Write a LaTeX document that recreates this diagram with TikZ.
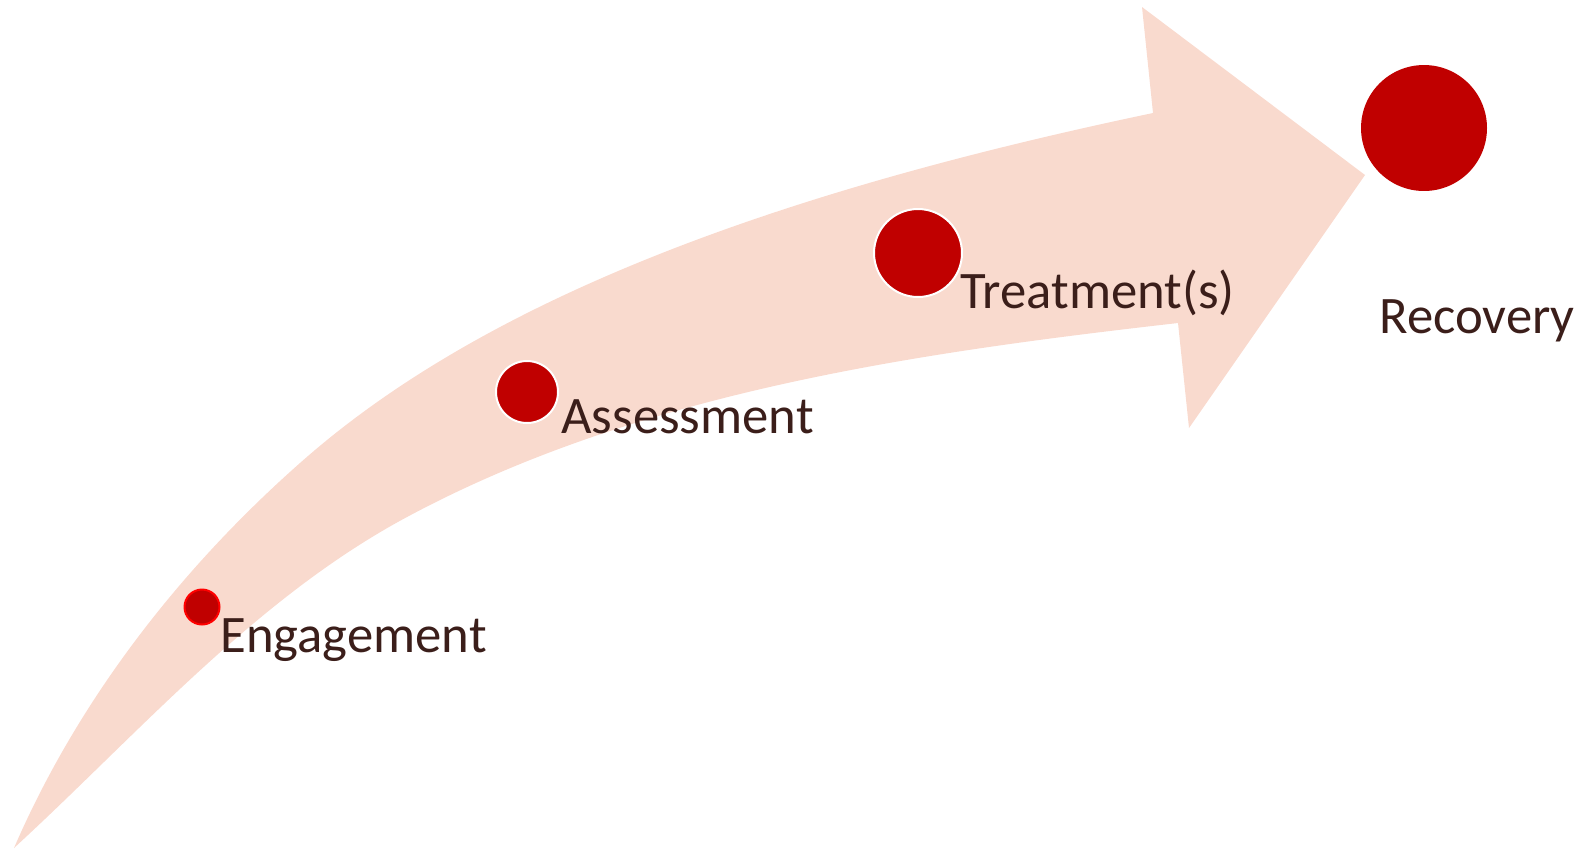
\documentclass[tikz,border=0pt]{standalone}
\usepackage{fontspec}
\setmainfont{Carlito}
\usepackage{tikz}

\definecolor{shaftpink}{RGB}{249,218,206}
\definecolor{dotred}{RGB}{192,0,0}
\definecolor{labelbrown}{RGB}{59,30,26}

\tikzset{
  stage/.style={circle, fill=dotred, inner sep=0pt},
  stagelabel/.style={anchor=base west, inner sep=0pt, text=labelbrown,
    font=\fontsize{30}{36}\selectfont}
}

\begin{document}
\begin{tikzpicture}[x=0.02cm, y=-0.02cm]
        \useasboundingbox (0,0) rectangle (1581,850);
        % the bent arrow: upper edge, head, lower edge back to the tail
        \fill[shaftpink] (14,848) .. controls (78,700) and (180,569) .. (300,463)
                .. controls (487,297) and (781,191) .. (1153,113)
                -- (1142,7) -- (1365,175) -- (1189,428) -- (1178,323)
                .. controls (915,353) and (640,392) .. (407,517)
                .. controls (256,598) and (140,732) .. (14,848) -- cycle;
        % stages
        \node[stage, draw=red, line width=0.04cm, minimum size=0.7cm] (engage) at (202,607) {};
        \node[stage, draw=white, line width=0.04cm, minimum size=1.24cm] (assess) at (527,392) {};
        \node[stage, draw=white, line width=0.04cm, minimum size=1.76cm] (treat) at (918,253) {};
        \node[stage, minimum size=2.52cm] (recov) at (1424,128) {};
        \node[stagelabel] (engage-txt) at (220,652) {Engagement};
        \node[stagelabel] (assess-txt) at (561,433) {Assessment};
        \node[stagelabel] (treat-txt) at (960,308) {Treatment(s)};
        \node[stagelabel] (recov-txt) at (1379,333) {Recovery};
\end{tikzpicture}
\end{document}
